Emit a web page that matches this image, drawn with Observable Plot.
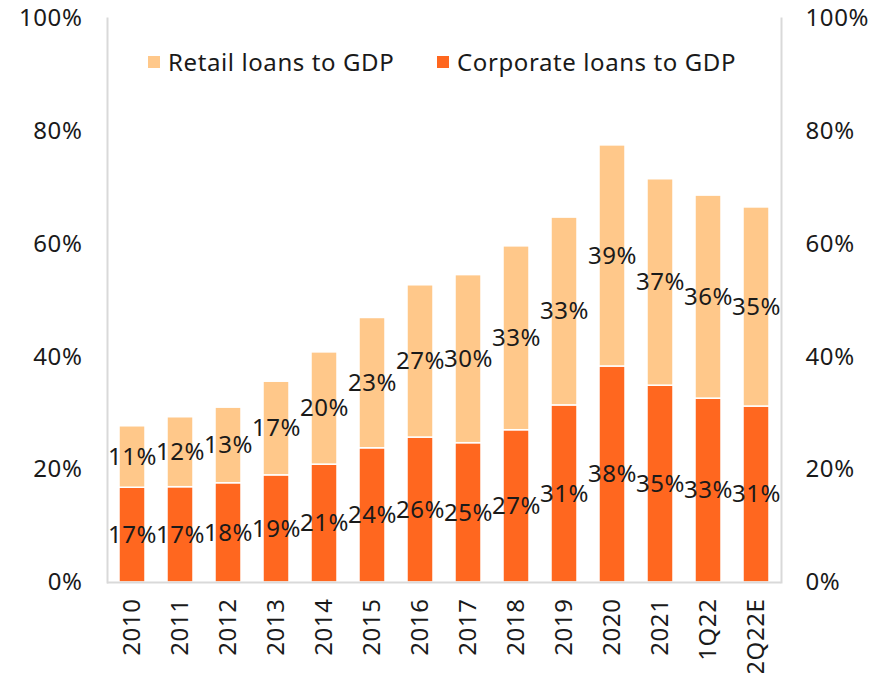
<!DOCTYPE html>
<html>
<head>
<meta charset="utf-8">
<script src="https://cdn.jsdelivr.net/npm/d3@7"></script>
<script src="https://cdn.jsdelivr.net/npm/@observablehq/plot@0.6"></script>
<style>
  html, body { margin: 0; padding: 0; background: #fff; overflow: hidden; }
  #wrap { position: relative; width: 887px; height: 673px; font-family: "Noto Sans", "Open Sans", sans-serif; }
  #wrap svg { display: block; max-width: none; }
  #wrap svg text { letter-spacing: 0.6px; }
  .item { position: absolute; top: 45px; display: flex; align-items: center; font-size: 24px; letter-spacing: 0.6px; color: #1a1a1a; white-space: nowrap; }
  .sw { width: 12px; height: 12px; margin-right: 8px; }
</style>
</head>
<body>
<div id="wrap"></div>
<script>
const periods = ["2010","2011","2012","2013","2014","2015","2016","2017","2018","2019","2020","2021","1Q22","2Q22E"];
const corporate = [16.8,16.9,17.6,19.0,20.9,23.8,25.7,24.7,27.0,31.4,38.3,34.9,32.6,31.2];
const retail = [10.9,12.4,13.4,16.6,19.9,23.1,27.0,29.8,32.6,33.3,39.2,36.6,36.0,35.3];
const seriesNames = ["Corporate loans to GDP", "Retail loans to GDP"];
const seriesColors = ["#FF671F", "#FFC88A"];
const yTicks = [0, 20, 40, 60, 80, 100];

const data = [];
periods.forEach((p, i) => {
  data.push({period: p, series: seriesNames[0], value: corporate[i]});
  data.push({period: p, series: seriesNames[1], value: retail[i]});
});

const fmt = v => Math.round(v) + "%";
const textColor = "#1a1a1a";
const lineColor = "#d9d9d9";
const fs = 24;

const chart = Plot.plot({
  width: 887,
  height: 673,
  marginLeft: 107,
  marginRight: 106,
  marginTop: 18,
  marginBottom: 91,
  style: {fontFamily: "'Noto Sans', 'Open Sans', sans-serif", fontSize: fs + "px", color: textColor, background: "#fff"},
  x: {domain: periods, paddingInner: 0.46, paddingOuter: 0.23, label: null},
  y: {domain: [0, 100], label: null},
  color: {domain: seriesNames, range: seriesColors},
  marks: [
    Plot.barY(data, Plot.stackY({x: "period", y: "value", fill: "series", stroke: "#fff", strokeWidth: 1.5, order: seriesNames})),
    Plot.text(data, Plot.stackY({x: "period", y: "value", z: "series", order: seriesNames, text: d => fmt(d.value), fill: textColor, fontSize: fs})),
    Plot.ruleY([0], {stroke: lineColor, strokeWidth: 2}),
    Plot.frame({anchor: "left", stroke: lineColor, strokeWidth: 2}),
    Plot.frame({anchor: "right", stroke: lineColor, strokeWidth: 2}),
    Plot.axisY(yTicks, {anchor: "left", tickSize: 0, tickPadding: 25, tickFormat: d => d + "%", label: null, fill: textColor, fontSize: fs}),
    Plot.axisY(yTicks, {anchor: "right", tickSize: 0, tickPadding: 24, tickFormat: d => d + "%", label: null, fill: textColor, fontSize: fs}),
    Plot.axisX({tickRotate: -90, tickSize: 0, tickPadding: 16, label: null, fill: textColor, fontSize: fs})
  ]
});

const wrap = document.getElementById("wrap");
wrap.appendChild(chart);

const legendOrder = [1, 0];
const legendLeft = [148, 437];
legendOrder.forEach((k, j) => {
  const item = document.createElement("div");
  item.className = "item";
  item.style.left = legendLeft[j] + "px";
  const sw = document.createElement("span");
  sw.className = "sw";
  sw.style.background = seriesColors[k];
  const label = document.createElement("span");
  label.textContent = seriesNames[k];
  item.appendChild(sw);
  item.appendChild(label);
  wrap.appendChild(item);
});
</script>
</body>
</html>
